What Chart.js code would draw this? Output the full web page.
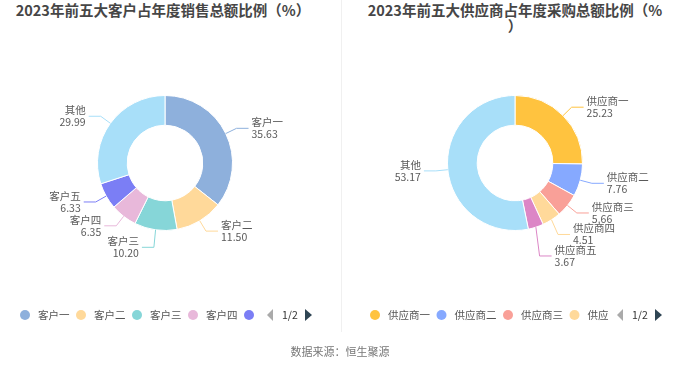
<!DOCTYPE html>
<html>
<head>
<meta charset="utf-8">
<script src="https://cdn.jsdelivr.net/npm/chart.js@4.4.0/dist/chart.umd.min.js"></script>
<style>
body{margin:0;background:#fff;width:680px;height:367px;position:relative;overflow:hidden;font-family:"Noto Sans CJK SC",sans-serif}
.title{position:absolute;top:2px;font-weight:bold;font-size:14.5px;color:#464646;text-align:center;line-height:16px;white-space:nowrap}
#t1{left:0;width:326px}
#t2{left:350px;width:330px}
.divider{position:absolute;left:341px;top:0;width:1px;height:332px;background:#f0f0f0}
canvas{position:absolute;top:0}
#c1{left:0}
#c2{left:350px}
.src{position:absolute;top:343px;left:0;width:680px;text-align:center;font-size:11px;color:#777}
</style>
</head>
<body>
<div class="title" id="t1">2023年前五大客户占年度销售总额比例（%）</div>
<div class="title" id="t2">2023年前五大供应商占年度采购总额比例（%<br>）</div>
<div class="divider"></div>
<canvas id="c1" width="330" height="367"></canvas>
<canvas id="c2" width="330" height="367"></canvas>
<div class="src">数据来源：恒生聚源</div>
<script>
const customerLabels = ['客户一', '客户二', '客户三', '客户四', '客户五', '其他'];
const customerValues = [35.63, 11.50, 10.20, 6.35, 6.33, 29.99];
const customerColors = ['#8eb0dc', '#ffd99a', '#86d6d8', '#e8b8da', '#7b7ef5', '#a8dff9'];

const supplierLabels = ['供应商一', '供应商二', '供应商三', '供应商四', '供应商五', '其他'];
const supplierValues = [25.23, 7.76, 5.66, 4.51, 3.67, 53.17];
const supplierColors = ['#ffc33f', '#86a9ff', '#f9a098', '#ffd99a', '#dc86c6', '#a8dff9'];

const LABEL_FONT = '10.5px "Noto Sans CJK SC", sans-serif';

// leader-line labels, roughly the way echarts lays them out
const pieLabels = {
  id: 'pieLabels',
  afterDatasetsDraw(chart) {
    const ctx = chart.ctx;
    const meta = chart.getDatasetMeta(0);
    const ds = chart.data.datasets[0];
    const items = meta.data.map((arc, i) => {
      const p = arc.getProps(['x', 'y', 'outerRadius', 'startAngle', 'endAngle'], true);
      const mid = (p.startAngle + p.endAngle) / 2;
      const c = Math.cos(mid), s = Math.sin(mid);
      return {
        i: i,
        x0: p.x + c * p.outerRadius, y0: p.y + s * p.outerRadius,
        ex: p.x + c * (p.outerRadius + 12), ey: p.y + s * (p.outerRadius + 12),
        right: c >= 0
      };
    });
    [true, false].forEach(side => {
      const list = items.filter(it => it.right === side).sort((a, b) => a.ey - b.ey);
      let prev = -Infinity;
      list.forEach(it => { it.ly = Math.max(it.ey, prev + 21.5); prev = it.ly; });
    });
    ctx.save();
    ctx.lineWidth = 1;
    ctx.font = LABEL_FONT;
    ctx.textBaseline = 'middle';
    items.forEach(it => {
      const dir = it.right ? 1 : -1;
      ctx.strokeStyle = ds.backgroundColor[it.i];
      ctx.beginPath();
      ctx.moveTo(it.x0, it.y0);
      ctx.lineTo(it.ex, it.ly);
      ctx.lineTo(it.ex + dir * 12, it.ly);
      ctx.stroke();
      ctx.fillStyle = '#5a5a5a';
      ctx.textAlign = it.right ? 'left' : 'right';
      const tx = it.ex + dir * 15;
      ctx.fillText(chart.data.labels[it.i], tx, it.ly - 6);
      ctx.fillText(ds.data[it.i].toFixed(2), tx, it.ly + 6);
    });
    ctx.restore();
  }
};

// scrolling legend, first page only
const pagedLegend = {
  id: 'pagedLegend',
  afterDraw(chart) {
    const ctx = chart.ctx;
    const ds = chart.data.datasets[0];
    const y = 315;
    ctx.save();
    ctx.font = LABEL_FONT;
    ctx.textBaseline = 'middle';
    ctx.textAlign = 'left';
    ctx.beginPath();
    ctx.rect(0, y - 10, 259, 20);
    ctx.clip();
    let x = 25;
    chart.data.labels.forEach((label, i) => {
      ctx.fillStyle = ds.backgroundColor[i];
      ctx.beginPath();
      ctx.arc(x, y, 5, 0, Math.PI * 2);
      ctx.fill();
      ctx.fillStyle = '#555';
      ctx.fillText(label, x + 13, y);
      x += 13 + ctx.measureText(label).width + 11.5;
    });
    ctx.restore();

    ctx.save();
    ctx.fillStyle = '#aaa';
    ctx.beginPath();
    ctx.moveTo(273, y - 6); ctx.lineTo(267, y); ctx.lineTo(273, y + 6);
    ctx.fill();
    ctx.fillStyle = '#333';
    ctx.font = LABEL_FONT;
    ctx.textBaseline = 'middle';
    ctx.fillText('1/2', 282, y);
    ctx.fillStyle = '#2f4554';
    ctx.beginPath();
    ctx.moveTo(305, y - 6); ctx.lineTo(312, y); ctx.lineTo(305, y + 6);
    ctx.fill();
    ctx.restore();
  }
};

function makeDonut(id, labels, values, colors) {
  return new Chart(document.getElementById(id), {
    type: 'doughnut',
    data: {
      labels: labels,
      datasets: [{
        data: values,
        backgroundColor: colors,
        borderColor: '#fff',
        borderWidth: 1,
        hoverOffset: 0
      }]
    },
    options: {
      responsive: false,
      animation: false,
      events: [],
      cutout: '56%',
      layout: { padding: { left: 97, right: 97, top: 95, bottom: 136 } },
      plugins: {
        legend: { display: false },
        tooltip: { enabled: false }
      }
    },
    plugins: [pieLabels, pagedLegend]
  });
}

makeDonut('c1', customerLabels, customerValues, customerColors);
makeDonut('c2', supplierLabels, supplierValues, supplierColors);
</script>
</body>
</html>
